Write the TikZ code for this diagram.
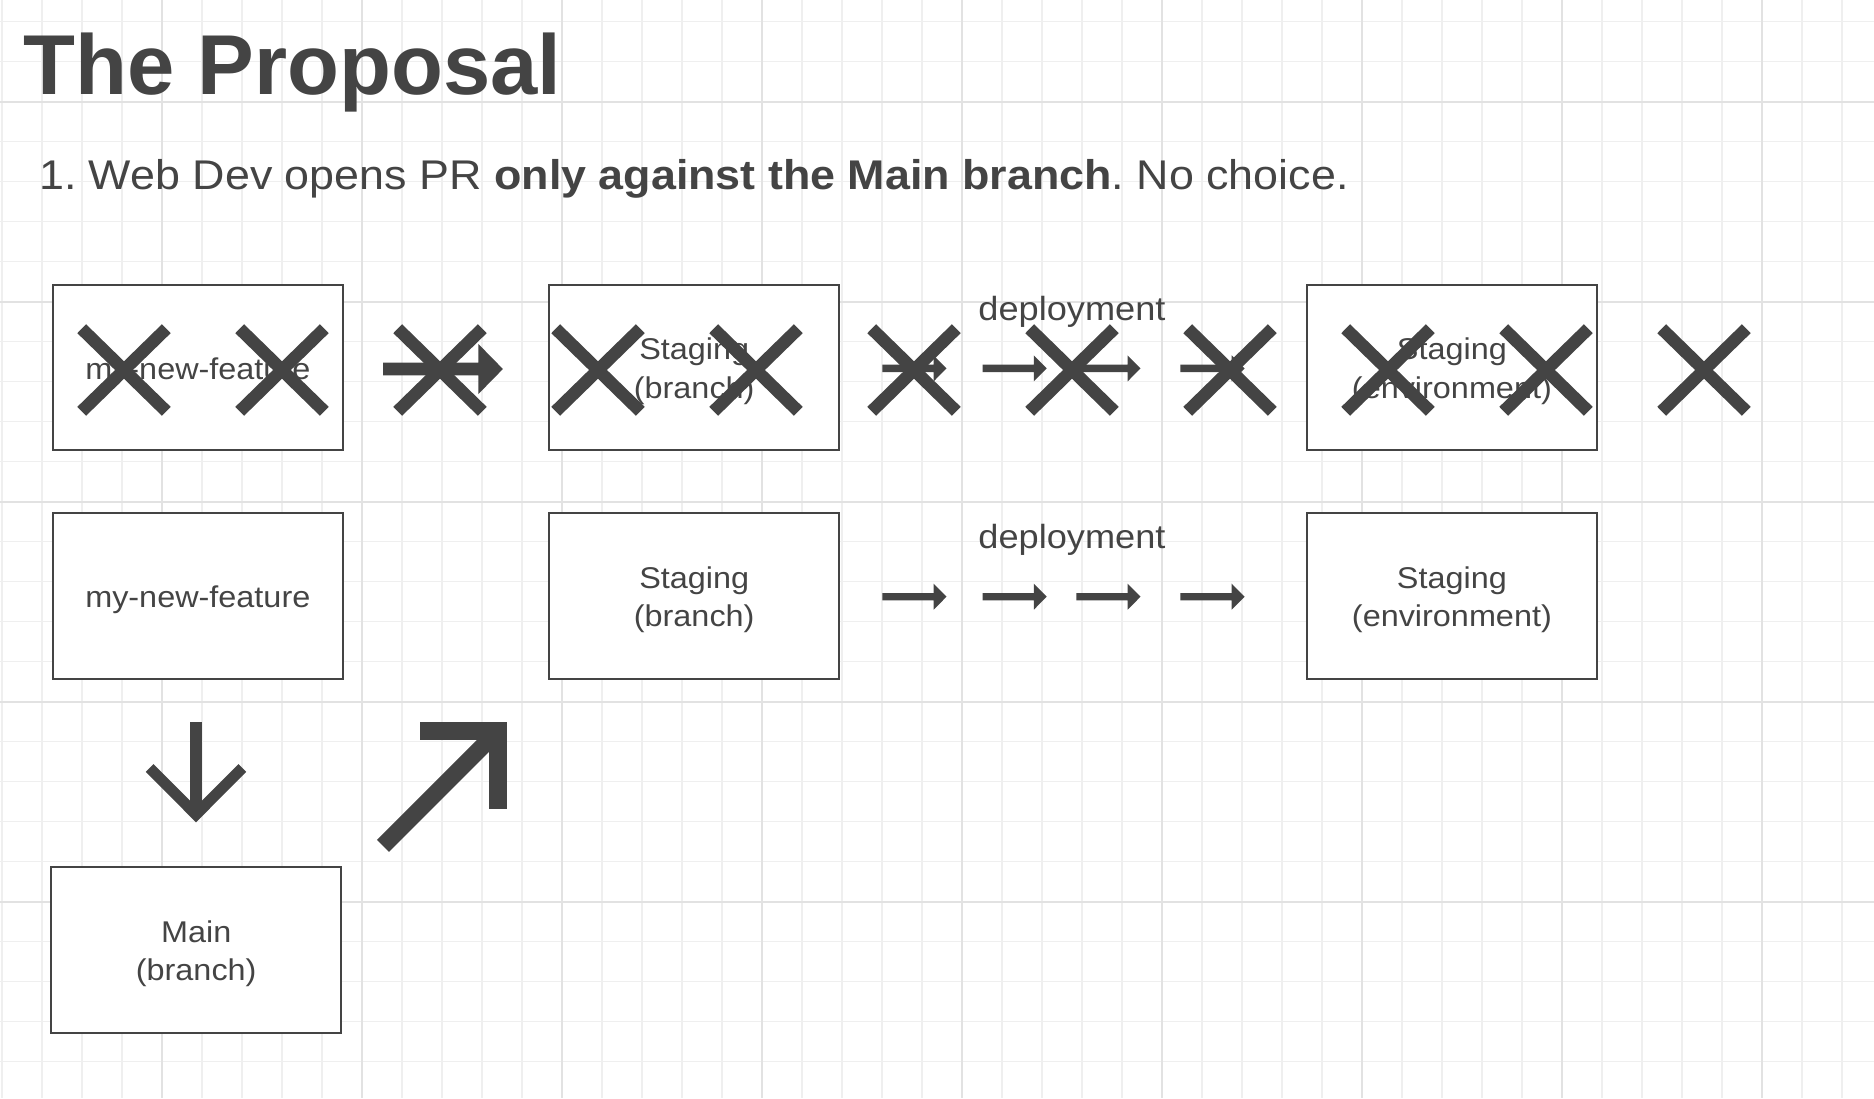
\documentclass[tikz,border=0pt]{standalone}
\usepackage{fontspec}
\setmainfont{Liberation Sans}
\newfontfamily\wideface[FakeStretch=1.08]{Liberation Sans}
\frenchspacing
\definecolor{ink}{HTML}{444444}
\definecolor{gridminor}{HTML}{EFEFEF}
\definecolor{gridmajor}{HTML}{E2E2E2}
\tikzset{
  box/.style={draw=ink, line width=2pt, fill=white, minimum width=289.5pt, minimum height=165.5pt, inner sep=0pt, outer sep=0pt, anchor=center},
  lbl/.style={text=ink, font=\wideface\fontsize{30}{36}\selectfont, inner sep=0pt, anchor=base},
  dep/.style={text=ink, font=\wideface\fontsize{33.5}{40}\selectfont, inner sep=0pt, anchor=base},
  minorline/.style={draw=gridminor, line width=1.5pt},
  majorline/.style={draw=gridmajor, line width=2pt},
  crossmark/.pic={\draw[ink, line width=12.5pt, line cap=butt] (-42.3,-41.3) -- (42.3,41.3) (-42.3,41.3) -- (42.3,-41.3);},
  smallarrow/.pic={\fill[ink] (0,-3.7) -- (51.3,-3.7) -- (51.3,-13) -- (64.2,0) -- (51.3,13) -- (51.3,3.7) -- (0,3.7) -- cycle;}
}
\begin{document}
\begin{tikzpicture}[x=1pt,y=-1pt]
\useasboundingbox (0,0) rectangle (1874,1098);
\fill[white] (0,0) rectangle (1874,1098);
% grid
\foreach \i in {0,...,46} {\draw[minorline] ({2+40*\i},0) -- ({2+40*\i},1098);}
\foreach \j in {0,...,26} {\draw[minorline] (0,{21.7+40*\j}) -- (1874,{21.7+40*\j});}
\foreach \i in {0,...,8} {\draw[majorline] ({162+200*\i},0) -- ({162+200*\i},1098);}
\foreach \j in {0,...,4} {\draw[majorline] (0,{101.7+200*\j}) -- (1874,{101.7+200*\j});}

% headings
\node[anchor=base west, inner sep=0pt, text=ink, font=\bfseries\fontsize{85}{100}\selectfont] (title) at (23,94.3) {The Proposal};
\node[anchor=base west, inner sep=0pt, text=ink, font=\wideface\fontsize{41.5}{50}\selectfont] (sub) at (39,189) {1. Web Dev opens PR \textbf{only against the Main branch}. No choice.};

% boxes
\node[box] (feat1) at (197.8,367.7) {};
\node[box] (stb1) at (694.2,367.7) {};
\node[box] (env1) at (1451.9,367.7) {};
\node[box] (feat2) at (197.8,596) {};
\node[box] (stb2) at (694.2,596) {};
\node[box] (env2) at (1451.9,596) {};
\node[box] (main) at (196.2,950) {};

% box labels
\node[lbl] (feat1t) at (197.8,379) {my-new-feature};
\node[lbl] (stb1a) at (694.2,359.7) {Staging};
\node[lbl] (stb1b) at (694.2,398.5) {(branch)};
\node[lbl] (env1a) at (1451.9,359.7) {Staging};
\node[lbl] (env1b) at (1451.9,398.5) {(environment)};
\node[lbl] (feat2t) at (197.8,607.3) {my-new-feature};
\node[lbl] (stb2a) at (694.2,588) {Staging};
\node[lbl] (stb2b) at (694.2,626.8) {(branch)};
\node[lbl] (env2a) at (1451.9,588) {Staging};
\node[lbl] (env2b) at (1451.9,626.8) {(environment)};
\node[lbl] (maina) at (196.2,942) {Main};
\node[lbl] (mainb) at (196.2,980.8) {(branch)};

% deployment labels
\node[dep] (dep1) at (1072,320) {deployment};
\node[dep] (dep2) at (1072,548.3) {deployment};

% small arrows
\foreach \ax in {882.3,982.5,1076.3,1180.4} {
  \pic at (\ax,368.4) {smallarrow};
  \pic at (\ax,596.7) {smallarrow};
}

% big arrow row 1
\fill[ink] (383,362.7) -- (478.4,362.7) -- (478.4,344) -- (502.9,369) -- (478.4,394) -- (478.4,375.3) -- (383,375.3) -- cycle;

% down arrow
\draw[ink, line width=12pt] (196,722.3) -- (196,812);
\draw[ink, line width=11pt, line join=miter] (149.7,768) -- (196,814.5) -- (242.3,768);

% up-right arrow
\draw[ink, line width=17.5pt, line join=miter] (420.2,730.9) -- (498.2,730.9) -- (498.2,809);
\draw[ink, line width=17pt] (383,845.9) -- (494,734.9);

% crosses
\foreach \cx in {124,282,440,598,756,914,1072,1230,1388,1546,1704} {
  \pic at (\cx,370) {crossmark};
}
\end{tikzpicture}
\end{document}
